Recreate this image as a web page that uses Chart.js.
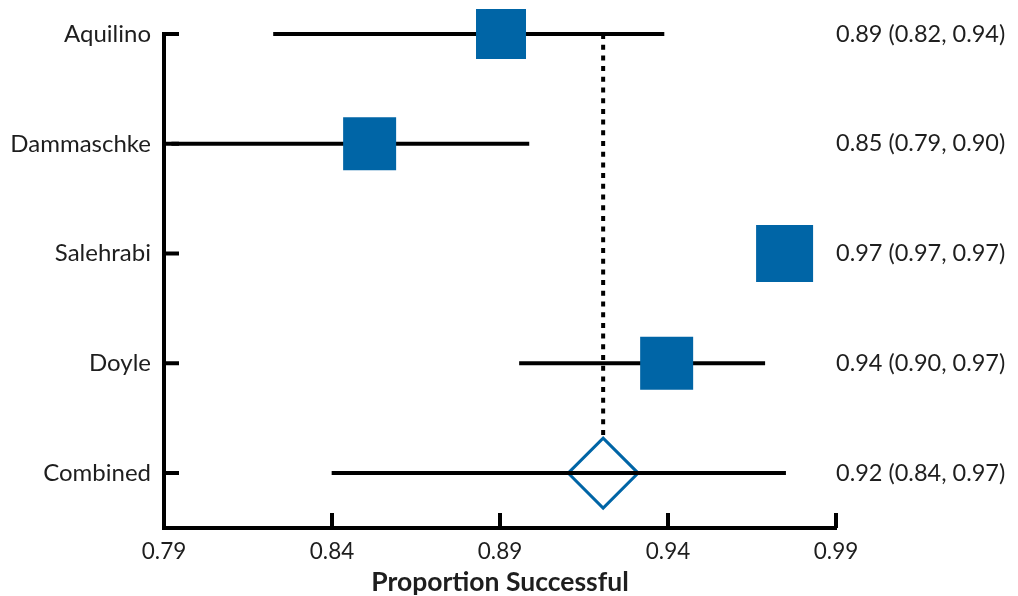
<!DOCTYPE html>
<html>
<head>
<meta charset="utf-8">
<script src="https://cdn.jsdelivr.net/npm/chart.js@4.4.0/dist/chart.umd.min.js"></script>
<style>
  body { margin: 0; background: #fff; }
  #wrap { width: 1018px; height: 596px; }
</style>
</head>
<body>
<div id="wrap"><canvas id="forest" width="1018" height="596"></canvas></div>
<script>
// forest plot data
const studies = ['Aquilino', 'Dammaschke', 'Salehrabi', 'Doyle', 'Combined']
const estimates = [0.8903, 0.8512, 0.9747, 0.9396, 0.9207]
const lowerCI = [0.8225, 0.7922, 0.9747, 0.8957, 0.8399]
const upperCI = [0.9389, 0.8987, 0.9747, 0.9689, 0.9751]
const summaryText = [
  '0.89 (0.82, 0.94)',
  '0.85 (0.79, 0.90)',
  '0.97 (0.97, 0.97)',
  '0.94 (0.90, 0.97)',
  '0.92 (0.84, 0.97)'
]
const xTicks = [0.79, 0.84, 0.89, 0.94, 0.99]
// zero-width non-joiner keeps Lato from using its "ti" ligature
const xTitle = 'Propor\u200Ction Successful'

const blue = 'rgb(0, 101, 166)'
const ink = '#1e1e1e'
const combinedIdx = studies.length - 1

// CI whiskers, one line per row
const ciSets = studies.map((name, i) => ({
  type: 'line',
  data: [{ x: lowerCI[i], y: i }, { x: upperCI[i], y: i }],
  borderColor: '#000',
  borderWidth: 4,
  borderCapStyle: 'butt',
  pointRadius: 0,
  clip: false,
  order: 1
}))

// study squares
const squareSide = [50, 53, 57, 53]
const squares = {
  type: 'scatter',
  data: estimates.slice(0, combinedIdx).map((v, i) => ({ x: v, y: i })),
  pointStyle: 'rect',
  pointRadius: squareSide.map(s => s / Math.SQRT2),
  backgroundColor: blue,
  borderWidth: 0,
  clip: false,
  order: 0
}

// combined estimate diamond
const diamond = {
  type: 'scatter',
  data: [{ x: estimates[combinedIdx], y: combinedIdx }],
  pointStyle: 'rectRot',
  pointRadius: 35,
  backgroundColor: '#fff',
  borderColor: blue,
  borderWidth: 3,
  clip: false,
  order: 2
}

// dotted reference line from the combined estimate up to the first study
const refLine = {
  type: 'line',
  data: [{ x: estimates[combinedIdx], y: 0 }, { x: estimates[combinedIdx], y: combinedIdx }],
  borderColor: '#000',
  borderWidth: 4,
  borderDash: [5, 5.7],
  borderCapStyle: 'butt',
  pointRadius: 0,
  clip: false,
  order: 3
}

// short inward tick marks on both axes
const innerTicks = {
  id: 'innerTicks',
  afterDraw(chart) {
    const { ctx, chartArea, scales } = chart
    ctx.save()
    ctx.strokeStyle = '#000'
    ctx.lineWidth = 4
    ctx.beginPath()
    studies.forEach((s, i) => {
      const y = scales.y.getPixelForValue(i)
      ctx.moveTo(chartArea.left, y)
      ctx.lineTo(chartArea.left + 15, y)
    })
    xTicks.forEach(v => {
      const x = scales.x.getPixelForValue(v)
      ctx.moveTo(x, chartArea.bottom)
      ctx.lineTo(x, chartArea.bottom - 15)
    })
    ctx.stroke()
    ctx.restore()
  }
}

const rowTicks = scale => { scale.ticks = studies.map((s, i) => ({ value: i })) }

new Chart(document.getElementById('forest'), {
  type: 'scatter',
  data: { datasets: [refLine, diamond, ...ciSets, squares] },
  options: {
    responsive: false,
    animation: false,
    events: [],
    layout: { autoPadding: false, padding: { top: 34, left: 0, right: 0, bottom: 0 } },
    plugins: { legend: { display: false }, tooltip: { enabled: false } },
    scales: {
      x: {
        type: 'linear',
        min: 0.79,
        max: 0.99,
        afterBuildTicks: scale => { scale.ticks = xTicks.map(v => ({ value: v })) },
        afterFit: scale => { scale.height = 68 },
        ticks: {
          font: { family: 'Lato', size: 22.5 },
          color: ink,
          padding: 10,
          maxRotation: 0,
          callback: v => v.toFixed(2)
        },
        grid: { display: false, drawTicks: false },
        border: { display: true, width: 4, color: '#000' },
        title: {
          display: true,
          text: xTitle,
          color: ink,
          font: { family: 'Lato', size: 26.5, weight: 'bold' },
          padding: { top: 0, bottom: -2 }
        }
      },
      y: {
        type: 'linear',
        position: 'left',
        reverse: true,
        min: 0,
        max: 4.5,
        afterBuildTicks: rowTicks,
        afterFit: scale => { scale.width = 164 },
        ticks: { font: { family: 'Lato', size: 24 }, color: ink, padding: 13, callback: v => studies[v] },
        grid: { display: false, drawTicks: false },
        border: { display: true, width: 4, color: '#000' }
      },
      y2: {
        type: 'linear',
        position: 'right',
        reverse: true,
        min: 0,
        max: 4.5,
        afterBuildTicks: rowTicks,
        afterFit: scale => { scale.width = 182 },
        ticks: { font: { family: 'Lato', size: 23.5 }, color: ink, padding: 0, callback: v => summaryText[v] },
        grid: { display: false, drawTicks: false },
        border: { display: false }
      }
    }
  },
  plugins: [innerTicks]
})
</script>
</body>
</html>
